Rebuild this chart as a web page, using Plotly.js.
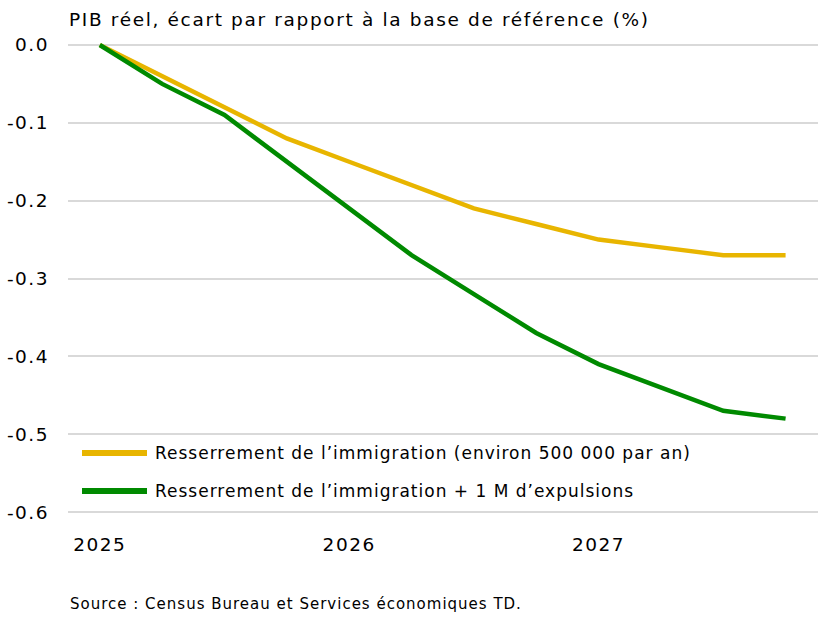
<!DOCTYPE html>
<html>
<head>
<meta charset="utf-8">
<script src="https://cdn.plot.ly/plotly-3.0.1.min.js"></script>
<style>
html,body{margin:0;padding:0;background:#fff;}
#chart{width:827px;height:617px;}
text.gtitle{letter-spacing:1.65px !important;}
text.annotation-text{letter-spacing:1.0px !important;}
.xtick text, .ytick text{letter-spacing:1.5px !important;}
</style>
</head>
<body>
<div id="chart"></div>
<script>
// Quarterly categories, 2025 Q1 to 2027 Q4
const quarters = ['2025T1','2025T2','2025T3','2025T4','2026T1','2026T2','2026T3','2026T4','2027T1','2027T2','2027T3','2027T4'];
const yearTickVals = ['2025T1','2026T1','2027T1'];
const yearTickText = ['2025','2026','2027'];
const seriesNames = ['Resserrement de l’immigration (environ 500 000 par an)', 'Resserrement de l’immigration + 1 M d’expulsions'];
const tightening = [0, -0.04, -0.08, -0.12, -0.15, -0.18, -0.21, -0.23, -0.25, -0.26, -0.27, -0.27];
const tighteningDeport = [0, -0.05, -0.09, -0.15, -0.21, -0.27, -0.32, -0.37, -0.41, -0.44, -0.47, -0.48];
const yTicks = [0, -0.1, -0.2, -0.3, -0.4, -0.5, -0.6];
const colors = ['#E8B500', '#008A00'];

const FONT = '"DejaVu Sans", sans-serif';
const W = 827, H = 617;
const mL = 68, mR = 9, mT = 40, mB = 100;

const traces = [
  {x: quarters, y: tightening, name: seriesNames[0], type: 'scatter', mode: 'lines',
   line: {color: colors[0], width: 4.5}, showlegend: false, hoverinfo: 'skip'},
  {x: quarters, y: tighteningDeport, name: seriesNames[1], type: 'scatter', mode: 'lines',
   line: {color: colors[1], width: 4.5}, showlegend: false, hoverinfo: 'skip'}
];

const pw = W - mL - mR, ph = H - mT - mB;
const px = v => (v - mL) / pw;
const py = v => 1 - (v - mT) / ph;
const legendY = [453, 491];
const shapes = [], annotations = [];
seriesNames.forEach((n, i) => {
  shapes.push({type: 'line', xref: 'paper', yref: 'paper', x0: px(82), x1: px(147), y0: py(legendY[i]), y1: py(legendY[i]),
    line: {color: colors[i], width: 6}, layer: 'above'});
  annotations.push({xref: 'paper', yref: 'paper', x: px(153), y: py(legendY[i]), xanchor: 'left', yanchor: 'middle',
    align: 'left', text: n, showarrow: false, font: {family: FONT, size: 17, color: '#000'}});
});
annotations.push({xref: 'paper', yref: 'paper', x: px(68), y: py(604), xanchor: 'left', yanchor: 'middle',
  align: 'left', text: 'Source : Census Bureau et Services économiques TD.', showarrow: false,
  font: {family: FONT, size: 15, color: '#000'}});

const layout = {
  width: W, height: H,
  margin: {l: mL, r: mR, t: mT, b: mB, pad: 0},
  paper_bgcolor: '#fff', plot_bgcolor: '#fff',
  font: {family: FONT, color: '#000'},
  title: {text: 'PIB réel, écart par rapport à la base de référence (%)', x: 69 / W, xanchor: 'left',
    y: 1 - 20 / H, yanchor: 'middle', xref: 'container', yref: 'container', font: {family: FONT, size: 18.5, color: '#000'}},
  xaxis: {type: 'category', categoryorder: 'array', categoryarray: quarters,
    range: [-0.51, 11.52], tickmode: 'array', tickvals: yearTickVals, ticktext: yearTickText,
    showgrid: false, zeroline: false, showline: false, ticks: '', ticklabelstandoff: 14,
    tickfont: {family: FONT, size: 18.5, color: '#000'}},
  yaxis: {range: [-0.6064, 0.0064], tickmode: 'array', tickvals: yTicks,
    ticktext: yTicks.map(v => v.toFixed(1)), showgrid: true, gridcolor: '#d9d9d9', gridwidth: 2,
    zeroline: false, showline: false, ticks: '', ticklabelstandoff: 18,
    tickfont: {family: FONT, size: 18.5, color: '#000'}},
  shapes: shapes, annotations: annotations, showlegend: false
};

Plotly.newPlot('chart', traces, layout, {staticPlot: true, displayModeBar: false});
</script>
</body>
</html>
